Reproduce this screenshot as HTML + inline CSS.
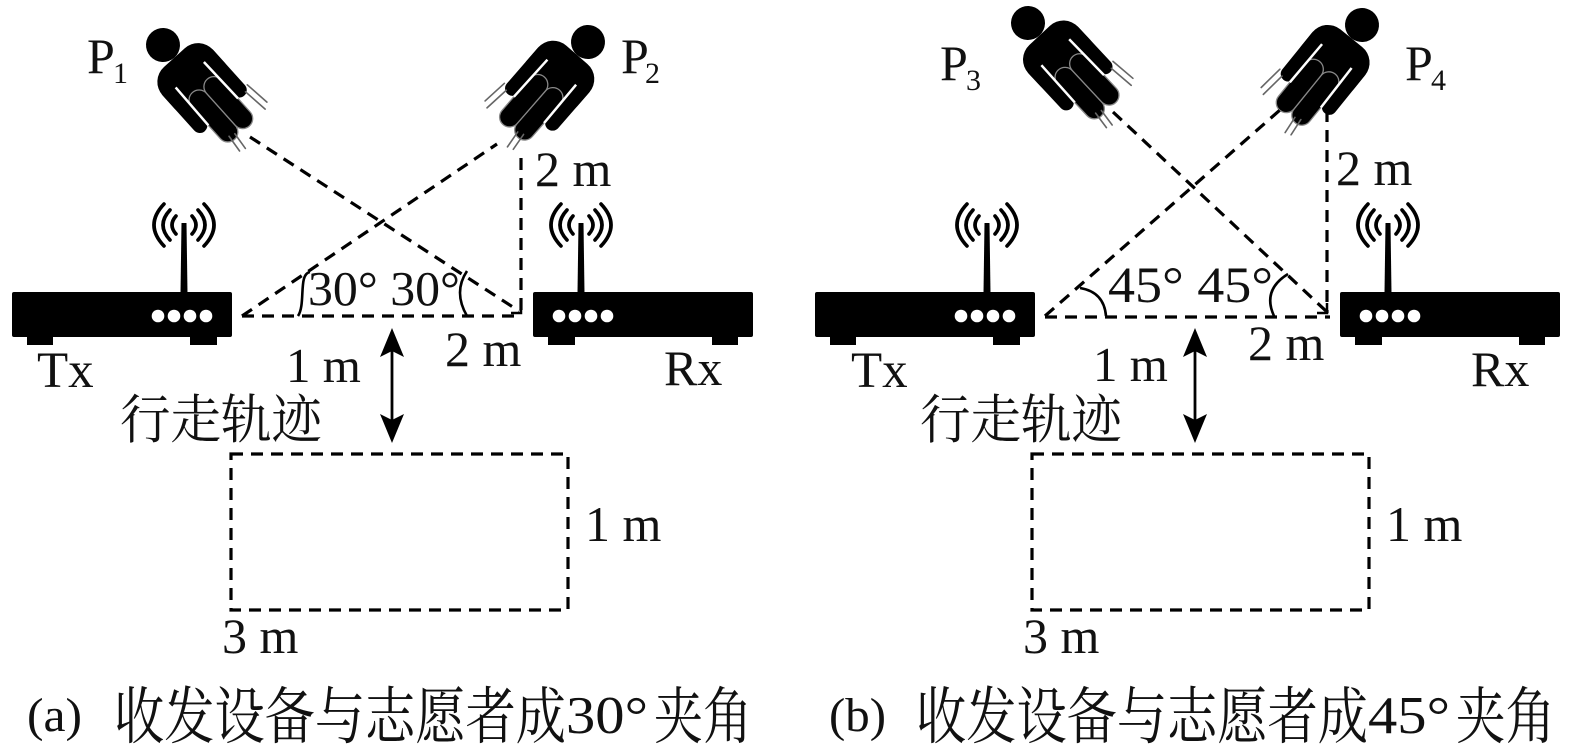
<!DOCTYPE html>
<html>
<head>
<meta charset="utf-8">
<style>
html,body{margin:0;padding:0;background:#fff;}
svg{display:block;}
text{font-family:"Liberation Serif","Noto Serif CJK SC",serif;fill:#111;}
.cjk{font-family:"Noto Serif CJK SC","Noto Sans CJK SC",serif;}
</style>
</head>
<body>
<svg width="1575" height="745" viewBox="0 0 1575 745" xmlns="http://www.w3.org/2000/svg">
<defs>
  <g id="router">
    <rect x="0" y="0" width="220" height="45" rx="2" fill="#000"/>
    <rect x="15" y="42" width="26" height="11" fill="#000"/>
    <rect x="178" y="42" width="27" height="11" fill="#000"/>
    <polygon points="168.5,1 175.5,1 174.5,-69 169.5,-69" fill="#000"/>
    <circle cx="146" cy="24" r="6.3" fill="#fff"/>
    <circle cx="162" cy="24" r="6.3" fill="#fff"/>
    <circle cx="178" cy="24" r="6.3" fill="#fff"/>
    <circle cx="194" cy="24" r="6.3" fill="#fff"/>
    <g fill="none" stroke="#000" stroke-width="3.6" stroke-linecap="round">
      <path d="M164,-76 Q156,-67 164,-58"/>
      <path d="M158,-82 Q144,-67 158,-52"/>
      <path d="M152,-88 Q132,-67 152,-46"/>
      <path d="M180,-76 Q188,-67 180,-58"/>
      <path d="M186,-82 Q200,-67 186,-52"/>
      <path d="M192,-88 Q212,-67 192,-46"/>
    </g>
  </g>
  <g id="person">
    <circle cx="0" cy="0" r="17" fill="#000"/>
    <rect x="-34" y="17" width="68" height="58" rx="20" fill="#000"/>
    <rect x="-34" y="30" width="15" height="62" rx="7.5" fill="#000"/>
    <rect x="19" y="30" width="15" height="62" rx="7.5" fill="#000"/>
    <rect x="-20" y="55" width="20" height="63" rx="10" fill="#000" stroke="#888" stroke-width="1.3"/>
    <rect x="0" y="55" width="20" height="63" rx="10" fill="#000" stroke="#888" stroke-width="1.3"/>
    <line x1="-19" y1="40" x2="-20" y2="90" stroke="#fff" stroke-width="2.5"/>
    <line x1="19" y1="40" x2="20" y2="90" stroke="#fff" stroke-width="2.5"/>
    <g stroke="#666" stroke-width="1.6" stroke-linecap="round">
      <line x1="30" y1="90" x2="33" y2="116"/>
      <line x1="36" y1="86" x2="39" y2="112"/>
      <line x1="-12" y1="112" x2="-14" y2="130"/>
      <line x1="-6" y1="114" x2="-8" y2="132"/>
    </g>
  </g>
</defs>

<rect width="1575" height="745" fill="#fff"/>

<!-- ===== Panel A ===== -->
<use href="#person" transform="translate(163,45) rotate(-42)"/>
<use href="#person" transform="translate(588,42) rotate(41) scale(-1,1)"/>

<use href="#router" transform="translate(12,292)"/>
<use href="#router" transform="translate(753,292) scale(-1,1)"/>

<g fill="none" stroke="#000" stroke-width="3.2" stroke-dasharray="12 8">
  <line x1="242" y1="316" x2="521" y2="316"/>
  <line x1="242" y1="316" x2="497" y2="144"/>
  <line x1="250" y1="137" x2="519" y2="311"/>
  <line x1="521" y1="158" x2="521" y2="313"/>
  <rect x="231" y="454" width="337" height="156"/>
</g>
<polyline points="511,313 521,313 521,303" fill="none" stroke="#000" stroke-width="2.5"/>
<path d="M310,272 C298,274 306,304 298,316" fill="none" stroke="#000" stroke-width="2.6"/>
<path d="M467,271 Q453,292 467,316" fill="none" stroke="#000" stroke-width="2.6"/>

<!-- arrow a -->
<line x1="392" y1="345" x2="392" y2="426" stroke="#000" stroke-width="2.8"/>
<polygon points="392,328 404,357 392,351 380,357" fill="#000"/>
<polygon points="392,443 404,414 392,420 380,414" fill="#000"/>

<text x="87" y="73" font-size="50">P</text>
<text x="113" y="83" font-size="30">1</text>
<text x="621" y="73" font-size="50">P</text>
<text x="645" y="83" font-size="30">2</text>
<text x="535" y="186" font-size="50">2 m</text>
<text x="308" y="305" font-size="49" textLength="152" lengthAdjust="spacingAndGlyphs">30° 30°</text>
<text x="37" y="387" font-size="51">Tx</text>
<text x="664" y="385" font-size="50">Rx</text>
<text x="286" y="382" font-size="49">1 m</text>
<text x="445" y="366" font-size="50">2 m</text>
<text class="cjk" x="120" y="438" font-size="53" textLength="202" lengthAdjust="spacingAndGlyphs">行走轨迹</text>
<text x="585" y="541" font-size="50">1 m</text>
<text x="222" y="653" font-size="50">3 m</text>

<text x="27" y="731" font-size="48" textLength="55" lengthAdjust="spacingAndGlyphs">(a)</text>
<text class="cjk" x="114" y="738" font-size="62" textLength="452" lengthAdjust="spacingAndGlyphs">收发设备与志愿者成</text>
<text x="566" y="733" font-size="53" textLength="82" lengthAdjust="spacingAndGlyphs">30°</text>
<text class="cjk" x="654" y="738" font-size="62" textLength="98" lengthAdjust="spacingAndGlyphs">夹角</text>

<!-- ===== Panel B ===== -->
<use href="#person" transform="translate(1028,23) rotate(-43)"/>
<use href="#person" transform="translate(1362,25) rotate(39) scale(-1,1)"/>

<use href="#router" transform="translate(815,292)"/>
<use href="#router" transform="translate(1560,292) scale(-1,1)"/>

<g fill="none" stroke="#000" stroke-width="3.2" stroke-dasharray="12 8">
  <line x1="1045" y1="317" x2="1330" y2="317"/>
  <line x1="1045" y1="316" x2="1280" y2="110"/>
  <line x1="1113" y1="112" x2="1326" y2="311"/>
  <line x1="1327" y1="110" x2="1327" y2="313"/>
  <rect x="1032" y="454" width="337" height="156"/>
</g>
<polyline points="1317,313 1327,313 1327,303" fill="none" stroke="#000" stroke-width="2.5"/>
<path d="M1080,288 Q1104,292 1106,316" fill="none" stroke="#000" stroke-width="2.6"/>
<path d="M1288,274 Q1262,290 1274,316" fill="none" stroke="#000" stroke-width="2.6"/>

<!-- arrow b -->
<line x1="1195" y1="345" x2="1195" y2="426" stroke="#000" stroke-width="2.8"/>
<polygon points="1195,328 1207,357 1195,351 1183,357" fill="#000"/>
<polygon points="1195,443 1207,414 1195,420 1183,414" fill="#000"/>

<text x="940" y="80" font-size="50">P</text>
<text x="966" y="90" font-size="30">3</text>
<text x="1405" y="80" font-size="50">P</text>
<text x="1431" y="90" font-size="30">4</text>
<text x="1336" y="185" font-size="50">2 m</text>
<text x="1108" y="302" font-size="51" textLength="165" lengthAdjust="spacingAndGlyphs">45° 45°</text>
<text x="851" y="387" font-size="51">Tx</text>
<text x="1471" y="386" font-size="50">Rx</text>
<text x="1093" y="381" font-size="49">1 m</text>
<text x="1248" y="360" font-size="50">2 m</text>
<text class="cjk" x="920" y="438" font-size="53" textLength="202" lengthAdjust="spacingAndGlyphs">行走轨迹</text>
<text x="1386" y="541" font-size="50">1 m</text>
<text x="1023" y="653" font-size="50">3 m</text>

<text x="829" y="731" font-size="48" textLength="57" lengthAdjust="spacingAndGlyphs">(b)</text>
<text class="cjk" x="916" y="738" font-size="62" textLength="452" lengthAdjust="spacingAndGlyphs">收发设备与志愿者成</text>
<text x="1368" y="733" font-size="53" textLength="82" lengthAdjust="spacingAndGlyphs">45°</text>
<text class="cjk" x="1456" y="738" font-size="62" textLength="99" lengthAdjust="spacingAndGlyphs">夹角</text>
</svg>
</body>
</html>
